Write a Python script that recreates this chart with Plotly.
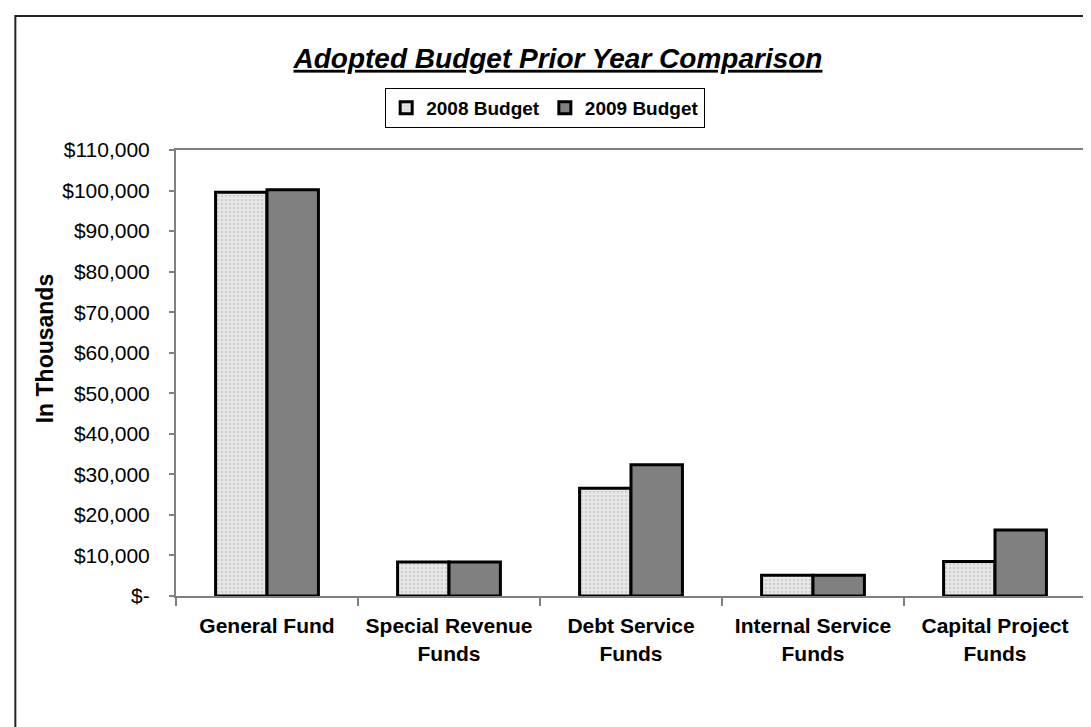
import plotly.graph_objects as go

categories = ["General Fund", "Special Revenue<br>Funds", "Debt Service<br>Funds",
              "Internal Service<br>Funds", "Capital Project<br>Funds"]
budget_2008 = [99600, 8400, 26600, 5100, 8500]
budget_2009 = [100200, 8400, 32400, 5100, 16300]
tick_vals = [0, 10000, 20000, 30000, 40000, 50000, 60000, 70000, 80000, 90000, 100000, 110000]
tick_text = ["$-", "$10,000", "$20,000", "$30,000", "$40,000", "$50,000", "$60,000",
             "$70,000", "$80,000", "$90,000", "$100,000", "$110,000"]
y_title = "In Thousands"

W, H = 1091, 727
L, R, T, B = 168, 1080, 142, 588
FONT = "Liberation Sans, Arial, sans-serif"

fig = go.Figure()
fig.add_trace(go.Bar(
    name="2008 Budget", x=categories, y=budget_2008,
    marker=dict(color="#e6e6e6", line=dict(color="black", width=3),
                pattern=dict(shape=".", fgcolor="#b8b8b8", bgcolor="#e8e8e8", size=4, solidity=0.35)),
))
fig.add_trace(go.Bar(
    name="2009 Budget", x=categories, y=budget_2009,
    marker=dict(color="#808080", line=dict(color="black", width=3)),
))

def px_x(p):
    return (p - L) / (R - L)

def px_y(p):
    return (B - p) / (B - T)

fig.update_layout(
    width=W, height=H,
    margin=dict(l=L, r=W - R, t=T, b=H - B, pad=0),
    paper_bgcolor="white", plot_bgcolor="white",
    barmode="group", bargap=0.435, bargroupgap=0,
    font=dict(family=FONT, color="black"),
    title=dict(text="<b><i><u>Adopted Budget Prior Year Comparison</u></i></b>",
               x=550 / W, xanchor="center", xref="container",
               y=1 - 50 / H, yanchor="middle", yref="container",
               font=dict(size=28, family=FONT, color="black")),
    legend=dict(orientation="h", x=px_x(538), xanchor="center",
                y=px_y(80), yanchor="top",
                bordercolor="black", borderwidth=1, bgcolor="white",
                font=dict(size=19, family=FONT, color="black", weight="bold"),
                itemwidth=30, traceorder="normal", itemclick=False,
                tracegroupgap=0),
    showlegend=True,
)
fig.update_xaxes(
    showline=True, linecolor="#808080", linewidth=2, mirror=True,
    ticks="outside", tickson="boundaries", ticklen=8, tickcolor="#808080", tickwidth=2,
    tickfont=dict(size=21, family=FONT, color="black", weight="bold"),
    ticklabelstandoff=10,
    showgrid=False,
)
fig.update_yaxes(
    range=[0, 110000], tickvals=tick_vals, ticktext=tick_text,
    showline=True, linecolor="#808080", linewidth=2, mirror=True,
    ticks="outside", ticklen=5, tickcolor="#808080", tickwidth=2,
    tickfont=dict(size=21, family=FONT, color="black"),
    ticklabelstandoff=15,
    showgrid=False, zeroline=False,
)
# y-axis title (placed as in the original, slightly above plot-centre)
fig.add_annotation(text="<b>" + y_title + "</b>", textangle=-90,
                   xref="paper", yref="paper", x=px_x(37), y=px_y(340),
                   xanchor="center", yanchor="middle", showarrow=False,
                   font=dict(size=23, family=FONT, color="black"))
# outer chart border
fig.add_shape(type="rect", xref="paper", yref="paper",
              x0=px_x(7), y0=px_y(800), x1=px_x(1200), y1=px_y(8),
              line=dict(color="#222222", width=2), fillcolor="rgba(0,0,0,0)", layer="below")

fig.write_html("out.html")
